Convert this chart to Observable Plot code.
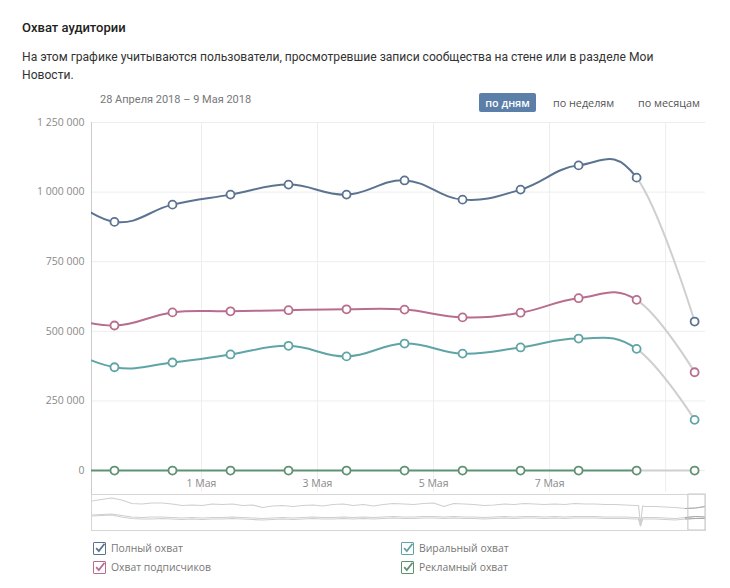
<!DOCTYPE html>
<html><head><meta charset="utf-8">
<script src="https://cdn.jsdelivr.net/npm/d3@7"></script>
<script src="https://cdn.jsdelivr.net/npm/@observablehq/plot@0.6"></script>
<style>
body{margin:0;background:#fff;width:730px;height:588px;position:relative;overflow:hidden;font-family:Roboto,"Open Sans",sans-serif;}
.abs{position:absolute;white-space:nowrap;}
#title{left:22px;top:20px;font-size:13px;font-weight:500;color:#222;}
#sub{left:22px;top:48px;font-size:12.1px;line-height:18px;color:#333;}
#range{left:100px;top:93px;font-size:11px;color:#777;font-family:Roboto,sans-serif;}
.btn{top:93px;height:19px;line-height:19px;font-size:10.8px;font-family:"Open Sans",sans-serif;color:#555;}
#b1{left:479px;width:57px;text-align:center;background:#5b7fa8;color:#fff;border-radius:2px;font-weight:600;}
#b2{left:553px;}
#b3{left:638px;}
#main{left:0;top:112px;}
#nav{left:0;top:492px;}
.leg{font-family:"Open Sans",sans-serif;font-size:10.4px;color:#777;height:14px;line-height:14px;display:flex;align-items:center;}
.cb{display:inline-block;width:11px;height:11px;border:1px solid;border-radius:1px;margin-right:5px;position:relative;background:#fff;}
.cb svg{position:absolute;left:0;top:-1px;}
</style></head>
<body>
<div id="title" class="abs">Охват аудитории</div>
<div id="sub" class="abs">На этом графике учитываются пользователи, просмотревшие записи сообщества на стене или в разделе Мои<br>Новости.</div>
<div id="range" class="abs">28 Апреля 2018 – 9 Мая 2018</div>
<div id="b1" class="abs btn">по дням</div>
<div id="b2" class="abs btn">по неделям</div>
<div id="b3" class="abs btn">по месяцам</div>
<div id="main" class="abs"></div>
<div id="nav" class="abs"></div>
<div id="legend"></div>
<script>
// ---------- data ----------
const dates = ["2018-04-28","2018-04-29","2018-04-30","2018-05-01","2018-05-02","2018-05-03","2018-05-04","2018-05-05","2018-05-06","2018-05-07","2018-05-08","2018-05-09"];
const fullReach  = [1015000, 893000, 955000, 991000, 1027000, 991000, 1042000, 973000, 1009000, 1096000, 1052000, 535000];
const subsReach  = [560000, 521000, 568000, 572000, 576000, 579000, 578000, 550000, 567000, 619000, 613000, 353000];
const viralReach = [455000, 371000, 388000, 417000, 448000, 410000, 456000, 420000, 442000, 474000, 437000, 182000];
const adReach    = [0, 0, 0, 0, 0, 0, 0, 0, 0, 0, 0, 0];
const seriesNames = ["Полный охват", "Охват подписчиков", "Виральный охват", "Рекламный охват"];
const seriesColors = ["#5b7390", "#b86d8e", "#5fa4a6", "#5f9274"];
const yTicks = [0, 250000, 500000, 750000, 1000000, 1250000];
const gridDates = ["2018-05-01","2018-05-03","2018-05-05","2018-05-07","2018-05-09"];
const labelDates = ["2018-05-01","2018-05-03","2018-05-05","2018-05-07"];
const monthLabel = "Мая";
// navigator (long history, thousands); navIdx = sample position along the history
const navIdx   = [0,1,2,3,4,5,6,7,8,9,10,11,12,13,14,15,16,17,18,19,20,21,22,23,24,25,26,27,28,29,30,31,32,33,34,35,36,37,38,39,40,41,42,43,44,45,46,47,48,49,50,51,52,53,54,54.35,54.54,54.75,55,56,57,58,59,60,61];
const navFull  = [1093,1148,1204,1130,1000,981,1019,1019,981,926,944,926,981,963,981,926,944,852,907,926,889,926,944,907,963,981,926,963,907,963,1000,981,963,1000,1019,889,1000,981,963,926,944,981,963,1000,981,963,981,963,1000,981,981,963,963,944,926,926,222,907,889,889,870,852,815,833,889];
const navSubs  = [574,593,611,556,500,481,500,500,481,463,481,463,481,481,500,481,463,444,463,481,463,481,500,481,481,500,481,500,481,500,519,500,500,519,519,500,519,500,500,481,500,519,500,519,519,500,519,500,519,519,519,500,500,500,481,481,185,481,481,481,463,444,481,519,500];
const navViral = [537,556,574,500,444,426,426,444,426,407,426,407,426,426,444,426,407,389,407,426,407,426,444,426,426,444,426,444,426,444,463,444,444,463,463,444,463,444,444,426,444,463,444,463,463,444,463,444,463,463,463,444,444,444,426,426,167,426,426,426,407,389,426,444,444];
const navAd    = navFull.map(() => 0);
const navSelStart = 59.3;

// ---------- helpers ----------
const noon = s => new Date(s + "T12:00:00Z");
const midnight = s => new Date(s + "T00:00:00Z");
const fmt = d => d3.format(",")(d).replace(/,/g, " ");

// Highcharts-style spline (smoothing 1.5), drawing only segments [from, to)
function hcSpline(from, to) {
  return function(context) {
    let pts;
    return {
      areaStart() {}, areaEnd() {},
      lineStart() { pts = []; },
      point(x, y) { pts.push([+x, +y]); },
      lineEnd() {
        const n = pts.length, L = [], R = [];
        for (let i = 0; i < n; i++) {
          const [x, y] = pts[i];
          if (i === 0 || i === n - 1) { L[i] = [x, y]; R[i] = [x, y]; continue; }
          const [lx, ly] = pts[i - 1], [nx, ny] = pts[i + 1];
          const s = 1.5, d = s + 1;
          let lcx = (s * x + lx) / d, lcy = (s * y + ly) / d, rcx = (s * x + nx) / d, rcy = (s * y + ny) / d;
          const corr = ((rcy - lcy) * (rcx - x)) / (rcx - lcx) + y - rcy;
          lcy += corr; rcy += corr;
          L[i] = [lcx, lcy]; R[i] = [rcx, rcy];
        }
        const a = Math.max(0, from), b = Math.min(n - 1, to);
        if (b <= a) return;
        context.moveTo(pts[a][0], pts[a][1]);
        for (let i = a; i < b; i++) context.bezierCurveTo(R[i][0], R[i][1], L[i + 1][0], L[i + 1][1], pts[i + 1][0], pts[i + 1][1]);
      }
    };
  };
}

const allSeries = [fullReach, subsReach, viralReach, adReach];
const rows = [];
allSeries.forEach((vals, k) => vals.forEach((v, i) => rows.push({series: seriesNames[k], date: noon(dates[i]), value: v, i})));
const last = dates.length - 1;

const lineMarks = [];
allSeries.forEach((vals, k) => {
  const data = rows.filter(r => r.series === seriesNames[k]);
  lineMarks.push(Plot.line(data, {x: "date", y: "value", stroke: "#cfcfcf", strokeWidth: 2, curve: hcSpline(last - 1, last), clip: true}));
  lineMarks.push(Plot.line(data, {x: "date", y: "value", stroke: seriesColors[k], strokeWidth: 2, curve: hcSpline(0, last - 1), clip: true}));
});
const dotRows = rows.filter(r => r.i > 0);

const main = Plot.plot({
  width: 730, height: 390,
  marginTop: 10, marginBottom: 25, marginLeft: 91, marginRight: 25,
  style: {background: "transparent", fontFamily: "'Open Sans', sans-serif"},
  x: {type: "utc", domain: [new Date("2018-04-29T02:30:00Z"), new Date("2018-05-09T16:30:00Z")], axis: null},
  y: {domain: [-25000, 1250000], axis: null},
  color: {domain: seriesNames, range: seriesColors},
  marks: [
    Plot.ruleY(yTicks, {y: d => d, stroke: "#ededed"}),
    Plot.ruleX(gridDates.map(midnight), {x: d => d, stroke: "#ededed", insetBottom: -15}),
    Plot.ruleX([new Date("2018-04-29T02:30:00Z")], {x: d => d, stroke: "#cccccc", insetBottom: -17}),
    Plot.axisY(yTicks, {tickSize: 0, tickPadding: 7, tickFormat: fmt, fontSize: 10.5, fill: "#8a8a8a", label: null}),
    Plot.axisX(labelDates.map(midnight), {tickSize: 0, tickPadding: 2, tickFormat: d => `${d.getUTCDate()} ${monthLabel}`, fontSize: 10.5, fill: "#8a8a8a", label: null}),
    ...lineMarks,
    Plot.dot(dotRows, {x: "date", y: "value", stroke: "series", fill: "#fff", r: 4, strokeWidth: 1.8})
  ]
});
document.getElementById("main").appendChild(main);

// navigator
const navRows = [];
[navFull, navSubs, navViral, navAd].forEach((vals, k) => vals.forEach((v, j) => navRows.push({series: seriesNames[k], i: navIdx[j], value: v})));
const navN = navIdx[navIdx.length - 1];
const nav = Plot.plot({
  width: 730, height: 40,
  marginTop: 2, marginBottom: 2, marginLeft: 91, marginRight: 25,
  style: {background: "transparent"},
  x: {domain: [0, navN], axis: null},
  y: {domain: [0, 1333], axis: null},
  marks: [
    Plot.line(navRows, {x: "i", y: "value", z: "series", stroke: "#cfcfcf", strokeWidth: 1.1}),
    Plot.line(navRows.filter(r => r.i >= navN - 2), {x: "i", y: "value", z: "series", stroke: "#a9a9a9", strokeWidth: 1, clip: true}),
    Plot.rect([{x1: navSelStart, x2: navN}], {x1: "x1", x2: "x2", y1: 0, y2: 1333, fill: "none", stroke: "#c4c4c4"}),
    Plot.frame({stroke: "#d6d6d6"})
  ]
});
document.getElementById("nav").appendChild(nav);

// legend
const legPos = [[93, 541], [93, 560], [401, 541], [401, 560]];
const legend = document.getElementById("legend");
seriesNames.forEach((name, k) => {
  const d = document.createElement("div");
  d.className = "abs leg";
  d.style.left = legPos[k][0] + "px";
  d.style.top = legPos[k][1] + "px";
  d.innerHTML = `<span class="cb" style="border-color:${seriesColors[k]}"><svg width="12" height="12" viewBox="0 0 12 12"><path d="M2.2 6.2 L4.8 9 L10.5 1.8" fill="none" stroke="${seriesColors[k]}" stroke-width="1.8"/></svg></span>${name}`;
  legend.appendChild(d);
});
</script>
</body></html>
